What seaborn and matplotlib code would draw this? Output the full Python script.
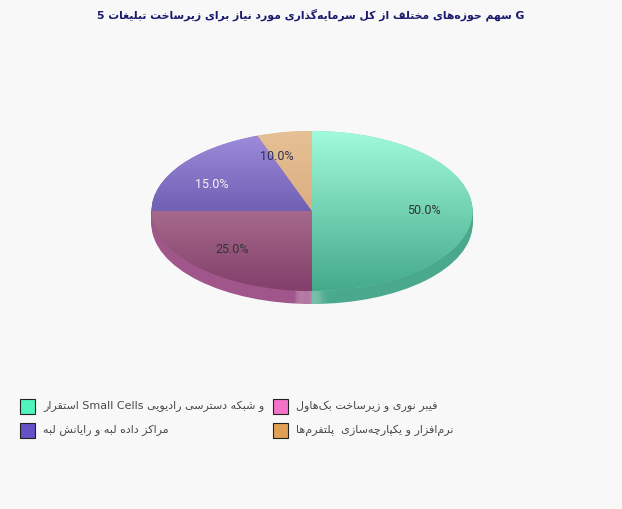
import re
import unicodedata
import numpy as np
import matplotlib
matplotlib.use("Agg")
import matplotlib.pyplot as plt
from matplotlib.patches import Rectangle
import seaborn as sns

# data
title = "G سهم حوزه‌های مختلف از کل سرمایه‌گذاری مورد نیاز برای زیرساخت تبلیغات 5"
names = [
    "و شبکه دسترسی رادیویی Small Cells استقرار",
    "فیبر نوری و زیرساخت بک‌هاول",
    "مراکز داده لبه و رایانش لبه",
    "نرم‌افزار و یکپارچه‌سازی  پلتفرم‌ها",
]
# the printed percentages
shares = [50, 25, 15, 10]
# the slices as they are really drawn in the picture (orange is much thinner than its label)
drawn_shares = [50, 25, 19.5, 5.5]
pct_colors = ["#333333", "#333333", "#f4f4f4", "#2f2f55"]
swatch_colors = ["#4ff5bd", "#f472c8", "#6650c8", "#e0a055"]
top_colors = ["#a0fadb", "#a66a8c", "#9d8bda", "#e5c195"]
bottom_colors = ["#44aa8a", "#823f6a", "#7060b4", "#dcae80"]
side_colors = ["#4aa98c", "#a0568a", "#6c5cb2", "#dca878"]

bg = "#f8f8f8"
RIGHT_JOIN = set("اآدذرزژو")
ZWNJ = "\u200c"


# matplotlib does not shape arabic, so pick the presentation forms by hand
def form(ch, after, before):
    base = unicodedata.name(ch)
    if after and before:
        suffix = "MEDIAL"
    elif after:
        suffix = "FINAL"
    elif before:
        suffix = "INITIAL"
    else:
        suffix = "ISOLATED"
    return unicodedata.lookup(f"{base} {suffix} FORM")


def shape_word(word):
    out = []
    for i, ch in enumerate(word):
        if ch == ZWNJ:
            continue
        prev = word[i - 1] if i > 0 else ""
        nxt = word[i + 1] if i + 1 < len(word) else ""
        joins_prev = prev != "" and prev != ZWNJ and prev not in RIGHT_JOIN
        joins_next = nxt != "" and nxt != ZWNJ and ch not in RIGHT_JOIN
        out.append(form(ch, joins_prev, joins_next))
    return "".join(out[::-1])


def rtl(text):
    parts = re.split(r"([A-Za-z0-9][A-Za-z0-9 ]*[A-Za-z0-9]|[A-Za-z0-9])", text)
    res = []
    for p in parts:
        if re.fullmatch(r"[A-Za-z0-9 ]+", p) and p.strip():
            res.append(p)
        else:
            words = re.split(r"( +)", p)
            res.append("".join(w if w.strip() == "" else shape_word(w) for w in words[::-1]))
    return "".join(res[::-1])


sns.set_theme(style="white")
plt.rcParams["font.family"] = ["DejaVu Sans"]

W, H = 622, 510
cx, cy, rx, ry, depth = 312, 212, 160.5, 80, 13

fig = plt.figure(figsize=(W / 100, H / 100), dpi=100, facecolor=bg)
# radius 1 is rx wide and ry tall, limits of the pie are +-1.25
ax = fig.add_axes([(cx - 1.25 * rx) / W, 1 - (cy + 1.25 * ry) / H, 2.5 * rx / W, 2.5 * ry / H])
ax.set_facecolor("none")

# side of the cylinder, stacked copies going up
d = depth / ry
for off in np.arange(d, 0, -1 / ry):
    wedges, _ = ax.pie(drawn_shares, colors=side_colors, startangle=90, counterclock=False,
                       center=(0, -off), radius=1, wedgeprops={"linewidth": 0.4, "edgecolor": "none"})
    for w in wedges:
        w.set_zorder(1)
    if off == d:
        lowest = wedges

# light strip on the side where the two big slices meet
strip = np.zeros((1, 32, 4))
strip[..., :3] = 1
strip[0, :, 3] = [0.0, 0.08, 0.16, 0.2, 0.2, 0.22, 0.22, 0.22, 0.22, 0.2, 0.2, 0.2, 0.2, 0.22, 0.22, 0.3,
                  0.25, 0.25, 0.25, 0.25, 0.25, 0.22, 0.2, 0.18, 0.12, 0.1, 0.08, 0.06, 0.04, 0.03, 0.02, 0.0]
for w in lowest[:2]:
    im = ax.imshow(strip, extent=(-0.11, 0.11, -1.25, 0), aspect="auto", zorder=2, interpolation="bilinear")
    im.set_clip_path(w)

# top face with a vertical gradient per slice
wedges, _ = ax.pie(drawn_shares, colors=swatch_colors, startangle=90, counterclock=False)
for w, top, bottom in zip(wedges, top_colors, bottom_colors):
    box = w.get_path().get_extents(w.get_patch_transform())
    rgb = np.linspace(matplotlib.colors.to_rgb(top), matplotlib.colors.to_rgb(bottom), 128)[:, None, :]
    w.set_zorder(3)
    w.set_facecolor(rgb[64, 0])
    w.set_linewidth(0)
    im = ax.imshow(rgb, extent=(box.x0, box.x1, box.y0, box.y1), aspect="auto", zorder=4, origin="upper")
    im.set_clip_path(w)

# invisible pie of the printed values, only for its percent labels
ghost, _, pcts = ax.pie(shares, colors=swatch_colors, startangle=90, counterclock=False,
                        autopct="%.1f%%", pctdistance=0.7,
                        textprops={"fontsize": 9, "family": "Roboto"})
for w in ghost:
    w.set_visible(False)
for t, c in zip(pcts, pct_colors):
    t.set_color(c)
    t.set_zorder(5)
    # labels sit about 2px higher than the slice middle
    t.set_y(t.get_position()[1] + 2 / ry)

ax.set_aspect("auto")
ax.set_xlim(-1.25, 1.25)
ax.set_ylim(-1.25, 1.25)
ax.axis("off")

fig.text(311 / W, 1 - 15 / H, rtl(title), ha="center", va="center", fontsize=7.85,
         fontweight="bold", color="#1a1a6e")

# legend, two columns
spots = [(20, 407), (273, 407), (20, 431), (273, 431)]
for name, col, (x, y) in zip(names, swatch_colors, spots):
    fig.add_artist(Rectangle((x / W, 1 - (y + 7.5) / H), 15 / W, 15 / H, transform=fig.transFigure,
                             facecolor=col, edgecolor="#222222", linewidth=0.8))
    fig.text((x + 23) / W, 1 - (y - 1) / H, rtl(name), ha="left", va="center", fontsize=8.0, color="#4a4a4a")

fig.savefig("out.png", dpi=100, facecolor=bg)
